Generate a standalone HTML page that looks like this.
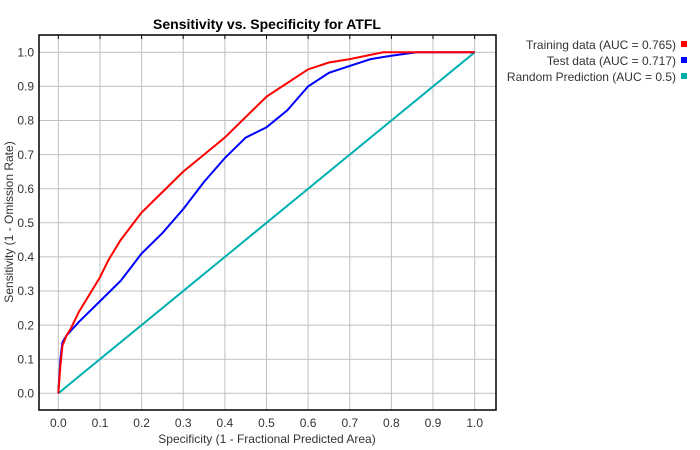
<!DOCTYPE html>
<html><head><style>body{margin:0;background:#fff}svg{display:block;font-family:"Liberation Sans",sans-serif}</style></head><body>
<svg width="700" height="450" xmlns="http://www.w3.org/2000/svg">
<rect width="700" height="450" fill="#fff"/>
<text x="267" y="29" font-size="14" font-weight="bold" text-anchor="middle">Sensitivity vs. Specificity for ATFL</text>
<g stroke="#c0c0c0" stroke-width="1">
<line x1="58.3" y1="35" x2="58.3" y2="410"/><line x1="100" y1="35" x2="100" y2="410"/><line x1="141.6" y1="35" x2="141.6" y2="410"/><line x1="183.2" y1="35" x2="183.2" y2="410"/><line x1="224.9" y1="35" x2="224.9" y2="410"/><line x1="266.5" y1="35" x2="266.5" y2="410"/><line x1="308.1" y1="35" x2="308.1" y2="410"/><line x1="349.8" y1="35" x2="349.8" y2="410"/><line x1="391.4" y1="35" x2="391.4" y2="410"/><line x1="433" y1="35" x2="433" y2="410"/><line x1="474.7" y1="35" x2="474.7" y2="410"/>
<line x1="39" y1="52.3" x2="496" y2="52.3"/><line x1="39" y1="86.4" x2="496" y2="86.4"/><line x1="39" y1="120.5" x2="496" y2="120.5"/><line x1="39" y1="154.6" x2="496" y2="154.6"/><line x1="39" y1="188.7" x2="496" y2="188.7"/><line x1="39" y1="222.8" x2="496" y2="222.8"/><line x1="39" y1="256.9" x2="496" y2="256.9"/><line x1="39" y1="291" x2="496" y2="291"/><line x1="39" y1="325.1" x2="496" y2="325.1"/><line x1="39" y1="359.2" x2="496" y2="359.2"/><line x1="39" y1="393.3" x2="496" y2="393.3"/>
</g>
<g transform="translate(58.3,393.3) scale(416.4,-341)" fill="none">
<polyline vector-effect="non-scaling-stroke" stroke="#00b0b0" stroke-width="2" points="0,0 1,1"/>
<polyline vector-effect="non-scaling-stroke" stroke="#0000ff" stroke-width="2" points="0,0 0.005,0.1 0.01,0.15 0.02,0.17 0.05,0.21 0.1,0.27 0.15,0.33 0.2,0.41 0.25,0.47 0.3,0.54 0.35,0.62 0.4,0.69 0.45,0.75 0.5,0.78 0.55,0.83 0.6,0.9 0.65,0.94 0.7,0.96 0.75,0.98 0.8,0.99 0.86,1 1,1"/>
<polyline vector-effect="non-scaling-stroke" stroke="#ff0000" stroke-width="2" points="0,0 0.005,0.08 0.01,0.14 0.02,0.17 0.03,0.19 0.05,0.24 0.08,0.3 0.1,0.34 0.12,0.39 0.15,0.45 0.2,0.53 0.25,0.59 0.3,0.65 0.35,0.7 0.4,0.75 0.45,0.81 0.5,0.87 0.55,0.91 0.6,0.95 0.65,0.97 0.7,0.98 0.78,1 1,1"/>
</g>
<rect x="39" y="35" width="457" height="375" fill="none" stroke="#000" stroke-width="1.5"/>
<g stroke="#000"><line x1="58.3" y1="35" x2="58.3" y2="39"/><line x1="100" y1="35" x2="100" y2="39"/><line x1="141.6" y1="35" x2="141.6" y2="39"/><line x1="183.2" y1="35" x2="183.2" y2="39"/><line x1="224.9" y1="35" x2="224.9" y2="39"/><line x1="266.5" y1="35" x2="266.5" y2="39"/><line x1="308.1" y1="35" x2="308.1" y2="39"/><line x1="349.8" y1="35" x2="349.8" y2="39"/><line x1="391.4" y1="35" x2="391.4" y2="39"/><line x1="433" y1="35" x2="433" y2="39"/><line x1="474.7" y1="35" x2="474.7" y2="39"/></g>
<g font-size="12" text-anchor="middle" fill="#333">
<text x="58.3" y="427">0.0</text><text x="100" y="427">0.1</text><text x="141.6" y="427">0.2</text><text x="183.2" y="427">0.3</text><text x="224.9" y="427">0.4</text><text x="266.5" y="427">0.5</text><text x="308.1" y="427">0.6</text><text x="349.8" y="427">0.7</text><text x="391.4" y="427">0.8</text><text x="433" y="427">0.9</text><text x="474.7" y="427">1.0</text>
</g>
<g font-size="12" text-anchor="end" fill="#333">
<text x="34" y="56.5">1.0</text><text x="34" y="90.6">0.9</text><text x="34" y="124.7">0.8</text><text x="34" y="158.8">0.7</text><text x="34" y="192.9">0.6</text><text x="34" y="227">0.5</text><text x="34" y="261.1">0.4</text><text x="34" y="295.2">0.3</text><text x="34" y="329.3">0.2</text><text x="34" y="363.4">0.1</text><text x="34" y="397.5">0.0</text>
</g>
<text x="267" y="443" font-size="12" text-anchor="middle" fill="#333">Specificity  (1 - Fractional Predicted Area)</text>
<text transform="translate(13,222) rotate(-90)" font-size="12" text-anchor="middle" fill="#333">Sensitivity  (1 - Omission Rate)</text>
<g font-size="12" text-anchor="end" fill="#333">
<text x="676" y="49">Training data (AUC = 0.765)</text><text x="676" y="65">Test data (AUC = 0.717)</text><text x="676" y="81">Random Prediction (AUC = 0.5)</text>
</g>
<rect x="681" y="41" width="6" height="6" fill="#ff0000"/><rect x="681" y="57" width="6" height="6" fill="#0000ff"/><rect x="681" y="73" width="6" height="6" fill="#00b0b0"/>
</svg>
</body></html>
